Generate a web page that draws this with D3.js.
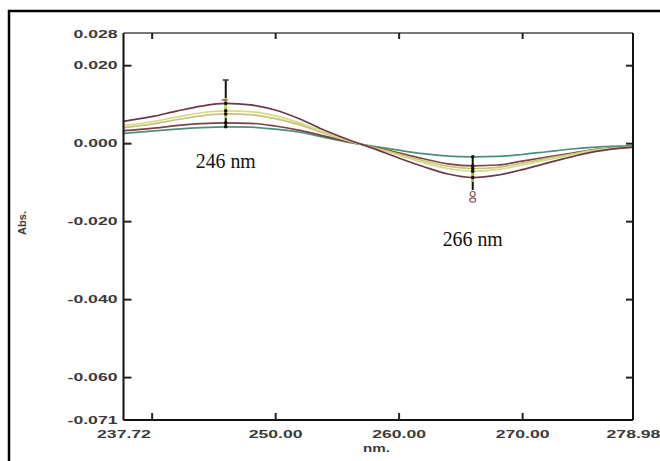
<!DOCTYPE html>
<html>
<head>
<meta charset="utf-8">
<script src="https://cdn.jsdelivr.net/npm/d3@7"></script>
<style>
html,body{margin:0;padding:0;background:#fff;}
svg{display:block;}
</style>
</head>
<body>
<svg id="chart" width="660" height="461"></svg>
<script>
// ---- data ----
const wavelengths = [237.72, 240, 242, 244, 246, 248, 250, 252, 254, 256, 258, 260, 262, 264, 266, 268, 270, 272, 274, 276, 278.98];
const seriesMaroon = [0.0056, 0.0068, 0.0082, 0.0095, 0.0102, 0.0098, 0.0085, 0.0062, 0.0033, 0.0008, -0.0014, -0.0038, -0.0060, -0.0079, -0.0088, -0.0082, -0.0068, -0.0051, -0.0035, -0.0021, -0.0010];
const seriesYellow = [0.0045, 0.0055, 0.0067, 0.0078, 0.0083, 0.0081, 0.0070, 0.0052, 0.0028, 0.0006, -0.0012, -0.0031, -0.0050, -0.0065, -0.0072, -0.0068, -0.0056, -0.0043, -0.0030, -0.0018, -0.0010];
const seriesOlive = [0.0040, 0.0049, 0.0060, 0.0070, 0.0075, 0.0073, 0.0063, 0.0047, 0.0025, 0.0005, -0.0011, -0.0028, -0.0045, -0.0059, -0.0065, -0.0062, -0.0051, -0.0039, -0.0028, -0.0017, -0.0010];
const seriesBrown = [0.0032, 0.0038, 0.0045, 0.0050, 0.0052, 0.0051, 0.0044, 0.0033, 0.0018, 0.0003, -0.0010, -0.0025, -0.0040, -0.0053, -0.0058, -0.0056, -0.0046, -0.0036, -0.0026, -0.0016, -0.0010];
const seriesTeal = [0.0025, 0.0031, 0.0036, 0.0040, 0.0042, 0.0041, 0.0036, 0.0028, 0.0015, 0.0002, -0.0008, -0.0018, -0.0027, -0.0033, -0.0035, -0.0034, -0.0029, -0.0022, -0.0015, -0.0010, -0.0007];
const seriesColors = ["#4f8f78", "#7b4444", "#c8c27a", "#d6da86", "#6a3a4c"];
const xLabelValues = [237.72, 250, 260, 270, 278.98];
const xTickValues = [240, 250, 260, 270];
const yLabelValues = [0.028, 0.020, 0.000, -0.020, -0.040, -0.060, -0.071];
const yTickValues = [0.020, 0.000, -0.020, -0.040, -0.060];
const peakAnnotations = [{nm: 246, text: "246 nm"}, {nm: 266, text: "266 nm"}];

const allSeries = [seriesTeal, seriesBrown, seriesOlive, seriesYellow, seriesMaroon];

// ---- layout ----
const svg = d3.select("#chart");
const L = 123.5, R = 633, T = 34, B = 420;
const x = d3.scaleLinear().domain([237.72, 278.98]).range([L, R]);
const y = d3.scaleLinear().domain([-0.071, 0.028]).range([B, T]);

// outer frame
svg.append("rect").attr("x", 9).attr("y", 11).attr("width", 700).attr("height", 500)
  .attr("fill", "none").attr("stroke", "#000").attr("stroke-width", 2.5);

// curves
const line = d3.line().x((d, i) => x(wavelengths[i])).y(d => y(d)).curve(d3.curveMonotoneX);
const g = svg.append("g");
allSeries.forEach((s, k) => {
  g.append("path").datum(s).attr("d", line).attr("fill", "none")
    .attr("stroke", seriesColors[k]).attr("stroke-width", 1.7);
});

// peak markers
function valAt(s, nm) { return s[wavelengths.indexOf(nm)]; }
const mx1 = x(246);
const ys1 = allSeries.map(s => y(valAt(s, 246)));
svg.append("line").attr("x1", mx1).attr("x2", mx1).attr("y1", 80).attr("y2", d3.max(ys1) + 1)
  .attr("stroke", "#111").attr("stroke-width", 2);
svg.append("line").attr("x1", mx1).attr("x2", mx1).attr("y1", 98).attr("y2", 118)
  .attr("stroke", "#c9d43c").attr("stroke-width", 2.4);
svg.append("line").attr("x1", mx1 - 3).attr("x2", mx1 + 3).attr("y1", 80).attr("y2", 80)
  .attr("stroke", "#333").attr("stroke-width", 1.5);
svg.append("line").attr("x1", mx1 - 4).attr("x2", mx1 + 2).attr("y1", 100).attr("y2", 100)
  .attr("stroke", "#8a5a5a").attr("stroke-width", 1.5);
ys1.forEach(v => svg.append("circle").attr("cx", mx1).attr("cy", v).attr("r", 1.8).attr("fill", "#111"));

const mx2 = x(266);
const ys2 = allSeries.map(s => y(valAt(s, 266)));
svg.append("line").attr("x1", mx2).attr("x2", mx2).attr("y1", d3.min(ys2)).attr("y2", 190)
  .attr("stroke", "#111").attr("stroke-width", 2);
svg.append("line").attr("x1", mx2).attr("x2", mx2).attr("y1", 168).attr("y2", 182)
  .attr("stroke", "#a8c030").attr("stroke-width", 2.4);
svg.append("ellipse").attr("cx", mx2).attr("cy", 194).attr("rx", 2.5).attr("ry", 2.5)
  .attr("fill", "none").attr("stroke", "#8a5a5a").attr("stroke-width", 1.2);
svg.append("ellipse").attr("cx", mx2).attr("cy", 200).attr("rx", 3).attr("ry", 2.2)
  .attr("fill", "none").attr("stroke", "#8a5a5a").attr("stroke-width", 1.2);
ys2.forEach(v => svg.append("circle").attr("cx", mx2).attr("cy", v).attr("r", 1.8).attr("fill", "#111"));

// axes frame lines
svg.append("line").attr("x1", L).attr("x2", R).attr("y1", T - 1).attr("y2", T - 1).attr("stroke", "#777").attr("stroke-width", 2);
svg.append("line").attr("x1", L).attr("x2", L).attr("y1", T - 1).attr("y2", B).attr("stroke", "#111").attr("stroke-width", 2);
svg.append("line").attr("x1", R).attr("x2", R).attr("y1", T - 1).attr("y2", B).attr("stroke", "#111").attr("stroke-width", 2);
svg.append("line").attr("x1", L).attr("x2", R).attr("y1", B).attr("y2", B).attr("stroke", "#111").attr("stroke-width", 2);

// tick marks (inward) via axes
function styleTicks(sel) {
  sel.select(".domain").remove();
  sel.selectAll("text").remove();
  sel.selectAll("line").attr("stroke", "#222").attr("stroke-width", 2);
}
svg.append("g").attr("transform", `translate(0,${B})`)
  .call(d3.axisTop(x).tickValues(xTickValues).tickSize(7)).call(styleTicks);
svg.append("g").attr("transform", `translate(0,${T - 1})`)
  .call(d3.axisBottom(x).tickValues(xTickValues).tickSize(6)).call(styleTicks);
svg.append("g").attr("transform", `translate(${L},0)`)
  .call(d3.axisRight(y).tickValues(yTickValues).tickSize(8)).call(styleTicks);
svg.append("g").attr("transform", `translate(${R},0)`)
  .call(d3.axisLeft(y).tickValues(yTickValues).tickSize(7)).call(styleTicks);

// labels via axes
function styleLabels(sel) {
  sel.select(".domain").remove();
  sel.selectAll("line").remove();
  sel.selectAll("text").attr("fill", "#3a3a3a").attr("font-family", "Liberation Sans, Arial, sans-serif")
    .attr("font-weight", "bold").attr("font-size", 11);
}
const xl = svg.append("g").attr("transform", `translate(0,${B})`)
  .call(d3.axisBottom(x).tickValues(xLabelValues).tickFormat(d3.format(".2f")).tickSize(0).tickPadding(10))
  .call(styleLabels);
const yl = svg.append("g").attr("transform", `translate(${L},0)`)
  .call(d3.axisLeft(y).tickValues(yLabelValues).tickFormat(d => d3.format(".3f")(d).replace("−", "-")).tickSize(0).tickPadding(6))
  .call(styleLabels);
// widen glyphs like the reference's extended face
[xl, yl].forEach(gr => gr.selectAll("text").each(function () {
  const w = this.getComputedTextLength();
  d3.select(this).attr("textLength", w * 1.6).attr("lengthAdjust", "spacingAndGlyphs");
}));

// axis titles
const nmT = svg.append("text").attr("x", 363).attr("y", 452).text("nm.")
  .attr("fill", "#3a3a3a").attr("font-family", "Liberation Sans, Arial, sans-serif")
  .attr("font-weight", "bold").attr("font-size", 10);
nmT.attr("textLength", 27).attr("lengthAdjust", "spacingAndGlyphs");
svg.append("text").attr("transform", "translate(26,223) rotate(-90)").attr("text-anchor", "middle")
  .text("Abs.").attr("fill", "#3a3a3a").attr("font-family", "Liberation Sans, Arial, sans-serif")
  .attr("font-weight", "bold").attr("font-size", 10)
  .attr("textLength", 24).attr("lengthAdjust", "spacingAndGlyphs");

// peak annotations
const annY = {246: 168, 266: 246};
peakAnnotations.forEach(a => {
  svg.append("text").attr("x", x(a.nm) - 30).attr("y", annY[a.nm]).text(a.text)
    .attr("font-family", "Liberation Serif, Times New Roman, serif").attr("font-size", 21)
    .attr("fill", "#111").attr("textLength", 60).attr("lengthAdjust", "spacingAndGlyphs");
});
</script>
</body>
</html>
